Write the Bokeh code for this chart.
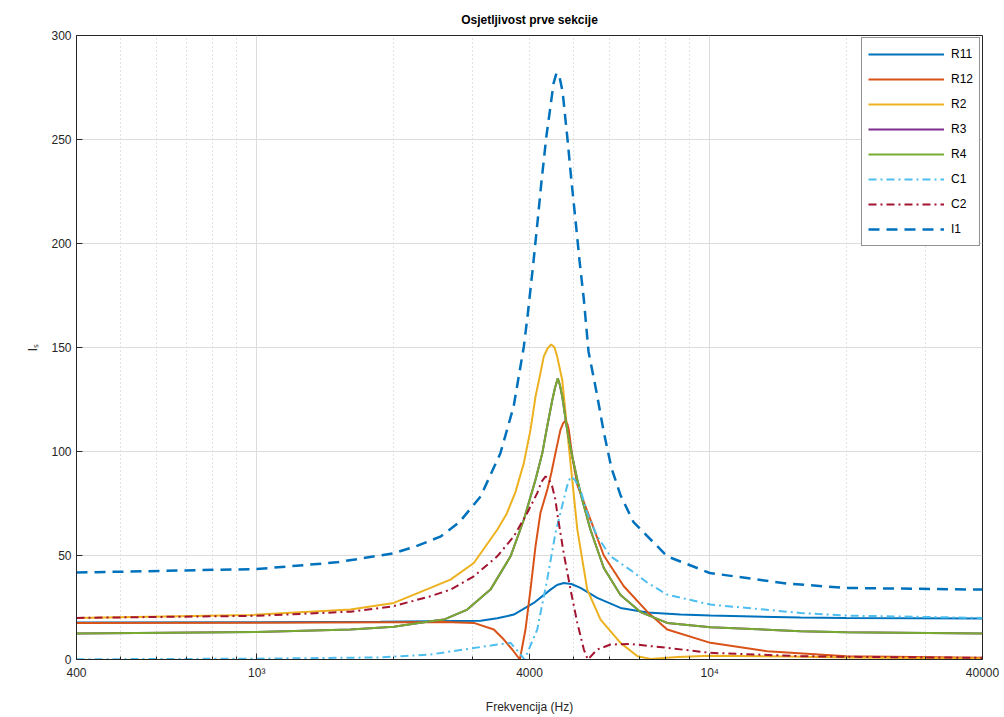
from bokeh.plotting import figure
from bokeh.models import FixedTicker, Legend, LegendItem
from bokeh.embed import file_html
from bokeh.resources import INLINE

# ---- data ----
f_R11 = [400, 1000, 1876, 3119, 3395, 3694, 4088, 4451, 4600, 4759, 4950, 5183, 5643, 6353, 7276, 8618, 10035, 15860, 20000, 40000]
v_R11 = [17.8, 17.9, 18.2, 18.6, 19.8, 21.6, 27.2, 33.6, 35.8, 36.8, 36.3, 34.4, 29.6, 24.8, 22.6, 21.6, 21.1, 20.2, 20.0, 19.7]

f_R12 = [400, 1000, 2000, 2600, 3014, 3337, 3511, 3664, 3809, 3919, 4020, 4124, 4228, 4383, 4473, 4564, 4681, 4744, 4805,
         4853, 4885, 4971, 5101, 5453, 5836, 6460, 7276, 8055, 10035, 13390, 20000, 40000]
v_R12 = [17.6, 17.7, 17.9, 18.0, 17.6, 14.4, 9.6, 4.8, 0.0, 14.4, 33.6, 54.4, 70.4, 82.0, 90.0, 99.2, 110.4, 113.5, 114.9,
         113.0, 110.4, 97.6, 84.0, 67.2, 50.0, 35.2, 23.0, 14.4, 8.0, 4.0, 1.6, 0.8]

f_R2 = [400, 969, 1610, 2007, 2418, 2677, 3014, 3395, 3560, 3725, 3886, 4020, 4124, 4228, 4300, 4383, 4467, 4543, 4605, 4724,
        4805, 4885, 4971, 5101, 5365, 5740, 6353, 6925, 7400, 8500, 10000, 15000, 20000, 40000]
v_R2 = [20.0, 21.4, 24.0, 27.2, 34.4, 38.4, 46.4, 62.4, 70.0, 80.5, 94.4, 110.4, 126.4, 137.6, 145.6, 149.5, 151.5, 150.0,
        145.6, 134.4, 118.4, 102.4, 86.4, 62.4, 33.6, 19.2, 8.0, 1.6, 0.3, 1.2, 1.8, 1.5, 1.0, 0.5]

f_R4 = [400, 1000, 1610, 2007, 2418, 2588, 2915, 3280, 3633, 3886, 4124, 4267, 4376, 4489, 4553, 4619, 4668, 4724, 4844,
        4971, 5101, 5229, 5453, 5836, 6353, 7033, 8055, 10035, 15860, 20000, 40000]
v_R4 = [12.5, 13.2, 14.4, 15.8, 18.4, 19.2, 24.0, 33.6, 49.6, 67.2, 86.4, 99.0, 112.0, 124.5, 130.5, 135.2, 132.0, 126.4,
        110.4, 97.6, 86.4, 76.8, 62.4, 44.0, 31.0, 22.8, 17.6, 15.5, 13.6, 13.1, 12.5]

# R3 coincides with R4 in the reference (hidden below it)
f_R3 = list(f_R4)
v_R3 = list(v_R4)

f_C1 = [400, 1000, 1876, 2418, 2865, 3395, 3633, 3821, 3900, 4160, 4376, 4564, 4759, 4844, 4928, 5029, 5183, 5365, 5643,
        6039, 6684, 7276, 8055, 10035, 15860, 20000, 40000]
v_C1 = [0.1, 0.4, 1.0, 2.4, 4.8, 7.2, 8.0, 2.5, 0.0, 14.4, 38.4, 60.8, 76.8, 83.5, 88.0, 86.5, 81.6, 70.4, 59.2,
        49.6, 43.0, 37.0, 31.2, 26.4, 22.4, 21.1, 20.0]

f_C2 = [400, 1000, 1610, 2000, 2418, 2677, 3014, 3395, 3694, 3953, 4160, 4252, 4340, 4405, 4489, 4564, 4605, 4759, 4928,
        5101, 5273, 5380, 5643, 6039, 6684, 7276, 8055, 10035, 15860, 20000, 40000]
v_C2 = [20.0, 21.0, 23.0, 25.6, 30.4, 33.6, 40.0, 49.6, 59.2, 70.4, 80.0, 85.5, 88.0, 87.0, 83.2, 76.8, 70.4, 51.2, 33.6,
        17.6, 4.8, 0.0, 4.8, 7.2, 7.5, 6.6, 5.6, 3.2, 1.6, 1.3, 0.8]

f_I1 = [400, 1000, 1500, 2000, 2250, 2550, 2800, 3120, 3450, 3690, 3886, 3960, 4020, 4076, 4165, 4252, 4361, 4451, 4520,
        4589, 4660, 4733, 4853, 4951, 5055, 5157, 5273, 5400, 5624, 5827, 6068, 6353, 6788, 8055, 10000, 14800, 20000, 40000]
v_I1 = [41.8, 43.5, 46.7, 51.0, 54.5, 59.2, 66.0, 78.4, 99.2, 121.6, 150.4, 165.0, 178.0, 190.0, 210.0, 230.0, 252.0, 266.0,
        277.0, 282.0, 280.0, 273.0, 250.0, 230.0, 211.0, 192.0, 173.0, 148.0, 128.5, 110.0, 92.0, 79.0, 66.0, 49.6, 41.6,
        36.5, 34.4, 33.6]

x_ticks = [400, 1000, 4000, 10000, 40000]
x_tick_labels = ["400", "10\u00b3", "4000", "10\u2074", "40000"]
x_minor = [500, 600, 700, 800, 900, 2000, 3000, 5000, 6000, 7000, 8000, 9000, 20000, 30000]
x_grid_major = [1000, 10000]
x_grid_minor = [500, 600, 700, 800, 900, 2000, 3000, 4000, 5000, 6000, 7000, 8000, 9000, 20000, 30000]
y_ticks = [0, 50, 100, 150, 200, 250, 300]

series = [
    ("R11", f_R11, v_R11, "#0072BD", "solid", 2.0),
    ("R12", f_R12, v_R12, "#D95319", "solid", 2.0),
    ("R2", f_R2, v_R2, "#EDB120", "solid", 2.0),
    ("R3", f_R3, v_R3, "#7E2F8E", "solid", 2.0),
    ("R4", f_R4, v_R4, "#77AC30", "solid", 2.0),
    ("C1", f_C1, v_C1, "#4DBEEE", "8 4 2 4", 2.0),
    ("C2", f_C2, v_C2, "#A2142F", "8 4 2 4", 2.0),
    ("I1", f_I1, v_I1, "#0072BD", "11 7", 2.5),
]

FONT = "Liberation Sans"
AX = "#262626"

p = figure(width=1000, height=716, x_axis_type="log", x_range=(400, 40000), y_range=(0, 300),
           output_backend="svg", toolbar_location=None, title="Osjetljivost prve sekcije",
           min_border_left=76, min_border_right=18, min_border_top=35, min_border_bottom=56)

p.title.align = "center"
p.title.text_font = FONT
p.title.text_font_size = "12px"
p.title.text_font_style = "bold"
p.title.text_color = "#000000"
p.title.standoff = 18

p.outline_line_color = AX
p.outline_line_width = 1

p.xaxis.ticker = FixedTicker(ticks=x_ticks, minor_ticks=x_minor)
p.xaxis.major_label_overrides = {t: l for t, l in zip(x_ticks, x_tick_labels)}
p.yaxis.ticker = FixedTicker(ticks=y_ticks)
p.xgrid.ticker = FixedTicker(ticks=x_grid_major, minor_ticks=x_grid_minor)

for ax in (p.xaxis[0], p.yaxis[0]):
    ax.axis_line_color = AX
    ax.major_tick_line_color = AX
    ax.minor_tick_line_color = AX
    ax.major_tick_in = 6
    ax.major_tick_out = 0
    ax.minor_tick_in = 3
    ax.minor_tick_out = 0
    ax.major_label_text_font = FONT
    ax.major_label_text_font_size = "12px"
    ax.major_label_text_color = AX
    ax.axis_label_text_font = FONT
    ax.axis_label_text_font_size = "12px"
    ax.axis_label_text_font_style = "normal"
    ax.axis_label_text_color = AX
p.yaxis.minor_tick_line_color = None
p.xaxis.axis_label = "Frekvencija (Hz)"
p.yaxis.axis_label = "I\u209b"
p.xaxis.major_label_standoff = 6
p.xaxis.axis_label_standoff = 17
p.yaxis.axis_label_standoff = 8

p.ygrid.grid_line_color = "#dcdcdc"
p.xgrid.grid_line_color = "#dcdcdc"
p.xgrid.minor_grid_line_color = "#c4c4c4"
p.xgrid.minor_grid_line_dash = "1 3"

items = []
for name, fx, vy, col, dash, lw in series:
    r = p.line(fx, vy, line_color=col, line_dash=dash, line_width=lw)
    items.append(LegendItem(label=name, renderers=[r]))

legend = Legend(items=items, location="top_right")
legend.border_line_color = AX
legend.border_line_width = 1
legend.background_fill_color = "white"
legend.background_fill_alpha = 1.0
legend.label_text_font = FONT
legend.label_text_font_size = "12px"
legend.label_text_color = "#000000"
legend.glyph_width = 76
legend.glyph_height = 20
legend.label_height = 20
legend.spacing = 5
legend.padding = 6
legend.margin = 2
legend.label_standoff = 7
p.add_layout(legend)

open("out.html", "w").write(file_html(p, INLINE))
